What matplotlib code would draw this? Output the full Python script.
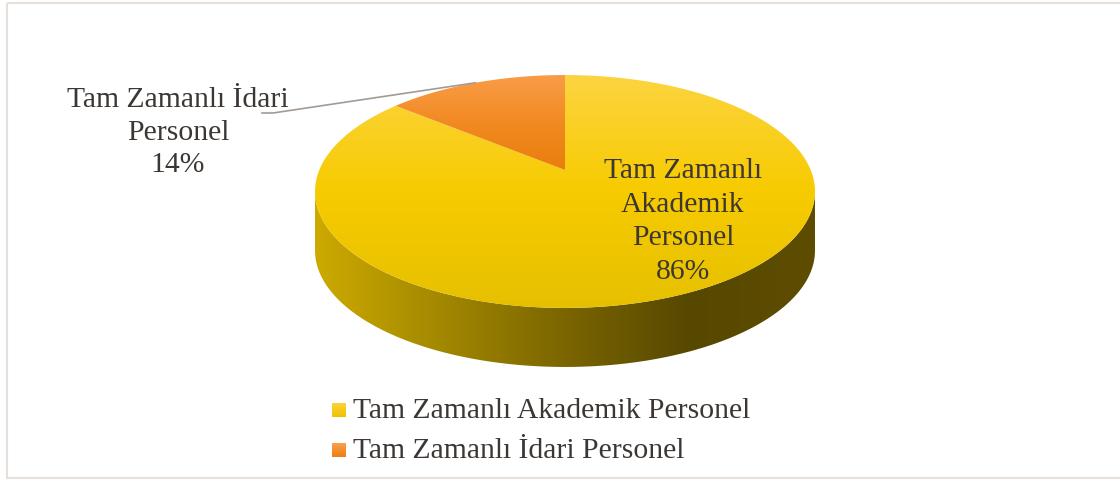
import numpy as np
import matplotlib
matplotlib.use('Agg')
import matplotlib.pyplot as plt
from matplotlib.patches import Polygon, Rectangle
from matplotlib.colors import LinearSegmentedColormap

# data
categories = ['Tam Zamanlı Akademik Personel', 'Tam Zamanlı İdari Personel']
values = [86, 14]
label_lines = [['Tam Zamanlı', 'Akademik', 'Personel', '86%'],
               ['Tam Zamanlı İdari', 'Personel', '14%']]

plt.rcParams['font.family'] = ['Liberation Serif', 'DejaVu Serif']
TXT = '#3d3733'
FS = 21.3

fig = plt.figure(figsize=(11.2, 4.83), dpi=100)
ax = fig.add_axes([0, 0, 1, 1])
ax.set_axis_off()

# pie geometry (pixel-like data units, y down)
CX, CY = 565, 170
R, B, A = 245.7, 112.5, -0.1845
DEPTH = 59


def proj(theta, depth=0.0):
    u = np.cos(theta)
    v = -np.sin(theta)
    den = 1 + A * v
    return CX + R * u / den, CY + B * v / den + depth


def grad_fill(patch, colors, extent, horizontal=False):
    cmap = LinearSegmentedColormap.from_list('g', colors)
    g = np.linspace(0, 1, 256)
    data = g.reshape(1, -1) if horizontal else g.reshape(-1, 1)
    im = ax.imshow(data, cmap=cmap, extent=extent, origin='upper',
                   aspect='auto', interpolation='bilinear', zorder=patch.get_zorder())
    ax.add_patch(patch)
    patch.set_visible(False)
    im.set_clip_path(patch)
    return im


# side wall (front)
t0 = np.pi + np.arcsin(-A)
t1 = 2 * np.pi - np.arcsin(-A)
ts = np.linspace(t0, t1, 200)
xt, yt = proj(ts)
xb, yb = proj(ts[::-1], DEPTH)
side = Polygon(np.column_stack([np.r_[xt, xb], np.r_[yt, yb]]), closed=True, zorder=1)
grad_fill(side, ['#cdaa00', '#a38800', '#7a6500', '#574800', '#5e4d00'],
          (xt.min(), xt.max(), 400, 180), horizontal=True)

# top face slices
start = np.pi / 2
fracs = np.array(values) / sum(values)
slice_colors = [['#fcd440', '#f7cb00', '#e6c000'],
                ['#f99c48', '#f28a22', '#e87e0c']]
mids = []
# first category clockwise from 12 o'clock, second counter-clockwise
spans = [(start - 2 * np.pi * fracs[0], start), (start, start + 2 * np.pi * fracs[1])]
for (a0, a1), cols in zip(spans, slice_colors):
    th = np.linspace(a0, a1, 200)
    x, y = proj(th)
    pts = np.column_stack([np.r_[CX, x], np.r_[CY, y]])
    poly = Polygon(pts, closed=True, zorder=2)
    grad_fill(poly, cols, (pts[:, 0].min(), pts[:, 0].max(), pts[:, 1].max(), pts[:, 1].min()))
    mids.append((a0 + a1) / 2)

# inside label
ys_in = [178, 211.7, 245, 279]
for s, yy in zip(label_lines[0], ys_in):
    ax.text(683, yy, s, ha='center', va='baseline', fontsize=FS, color=TXT, zorder=5)

# outside label with leader line
ys_out = [106.7, 140, 172]
for s, yy in zip(label_lines[1], ys_out):
    ax.text(178, yy, s, ha='center', va='baseline', fontsize=FS, color=TXT, zorder=5)
ex, ey = proj(mids[1])
ax.plot([262, 273, ex], [113, 113, ey], color='#a39a93', lw=1.2, zorder=4)

# legend
leg_cols = [['#fcd23c', '#f0c200'], ['#f9a050', '#ec7f10']]
for i, (name, cols) in enumerate(zip(categories, leg_cols)):
    base = 418.3 + 40 * i
    sq = Rectangle((332, base - 15.5), 14, 14, zorder=3)
    grad_fill(sq, cols, (332, 346, base - 1.5, base - 15.5))
    ax.text(353, base, name, ha='left', va='baseline', fontsize=FS, color=TXT, zorder=5)

# chart border
ax.add_patch(Rectangle((6.5, 2.5), 1120, 475, fill=False, ec='#e6dfda', lw=1.5, zorder=0))

ax.set_xlim(0, 1120)
ax.set_ylim(483, 0)
fig.savefig('out.png', dpi=100, facecolor='white')
